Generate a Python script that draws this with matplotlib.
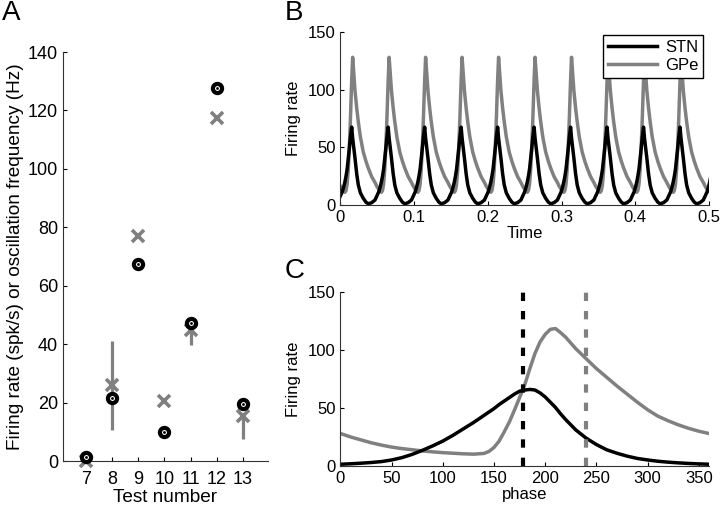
'''Three-panel figure: test summary (A), STN/GPe firing over time (B)
and firing rate against oscillation phase (C)'''

import numpy as np
import matplotlib
matplotlib.use('Agg')
import matplotlib.pyplot as plt

plt.rcParams['font.family'] = ['Liberation Sans', 'DejaVu Sans']

GRAY = '#808080'

# Panel A: per test, firing rate (circles) and oscillation frequency (crosses)
tests = [7, 8, 9, 10, 11, 12, 13]
rate_values = [1.5, 21.5, 67.3, 9.8, 47.3, 127.7, 19.5]
freq_values = [0, 26, 77, 20.5, 45, 117.5, 15.5]
range_tests = [8, 11, 13]
range_low = [10.5, 39.7, 7.5]
range_high = [41, 45, 15.5]

# Panel B: one oscillation cycle, time relative to the GPe peak (s)
cycle_time = [-0.0165, -0.0140, -0.0120, -0.0105, -0.0090, -0.0075, -0.0060,
              -0.0045, -0.0030, -0.0013, 0.0, 0.0015, 0.0032, 0.0055, 0.0077,
              0.0105, 0.0144, 0.0180, 0.0212, 0.0258, 0.0303, 0.0330]
cycle_stn = [8, 11.5, 16, 20, 25, 31, 40, 49, 59, 67.5, 58, 50, 40.5, 27, 17.3,
             10.5, 5.8, 2.5, 1.0, 2, 4.3, 8]
cycle_gpe = [16, 13.5, 12, 11, 12.5, 18, 30, 50, 75, 108, 128, 114, 99, 84, 72,
             59, 46, 38, 32, 24.6, 19.5, 16]
first_peak = 0.0165
period = 0.0495
n_cycles = 11

# Panel C: phase-averaged firing rate
phase = [0, 10, 20, 30, 40, 50, 60, 70, 80, 90, 100, 110, 120, 130, 140,
         145, 150, 155, 160, 165, 170, 175, 180, 185, 190, 195, 200, 205, 210,
         215, 220, 230, 240, 250, 260, 270, 280, 290, 300, 310, 320, 330, 340,
         350, 360]
stn_phase = [1.5, 1.9, 2.4, 3.0, 3.8, 5.2, 7.2, 10, 13.5, 17.3, 21.5, 26.5, 32,
             37.5, 43.5, 46.5, 49.5, 53, 56, 59, 62, 64.5, 65.5, 66, 65.5, 63,
             59.5, 55, 50.5, 45, 40, 31, 24, 18.5, 14, 11, 8.5, 6.5, 5.2, 4.1,
             3.3, 2.7, 2.2, 1.8, 1.5]
gpe_phase = [28, 25, 22.5, 20, 18, 16.3, 15, 14, 13, 12.2, 11.5, 11, 10.5, 10.2,
             10.8, 12.5, 16, 21.5, 29.5, 38, 48.3, 59, 70, 84, 97, 107, 113.5,
             117.8, 118.5, 115, 111, 101, 92.5, 84, 76.5, 69, 62, 55, 48.5, 43,
             39, 35.5, 32.5, 30, 28]
mean_phase_stn = 178
mean_phase_gpe = 240


def style_axes(ax, size):
    for side in ('top', 'right'):
        ax.spines[side].set_visible(False)
    for side in ('left', 'bottom'):
        ax.spines[side].set_color('#333333')
    ax.tick_params(direction='in', length=3, labelsize=size, colors='black')


fig = plt.figure(figsize=(7.2, 5.08), dpi=100)

# ---- A ----
ax_a = fig.add_axes([0.0875, 0.0925, 0.2847, 0.805])
ax_a.vlines(range_tests, range_low, range_high, color=GRAY, lw=2.3, zorder=1)
ax_a.plot(tests, freq_values, 'x', color=GRAY, ms=8.5, mew=2.6,
          zorder=2, clip_on=False)
ax_a.plot(tests, rate_values, 'o', mfc='white', mec='black', ms=6.6, mew=3,
          zorder=3, clip_on=False)
ax_a.plot(tests, rate_values, '.', color='black', ms=2, zorder=4, clip_on=False)
ax_a.set_xlim(6.12, 13.96)
ax_a.set_ylim(0, 140)
ax_a.set_xticks(tests)
ax_a.set_yticks(range(0, 141, 20))
style_axes(ax_a, 13)
ax_a.tick_params(axis='x', pad=7)
ax_a.set_xlabel('Test number', fontsize=13.7, labelpad=1)
ax_a.set_ylabel('Firing rate (spk/s) or oscillation frequency (Hz)',
                fontsize=13.7, labelpad=3)

# ---- B ----
ax_b = fig.add_axes([0.4729, 0.5965, 0.5118, 0.3406])
time_b = np.concatenate([np.array(cycle_time) + first_peak + k * period
                         for k in range(-1, n_cycles)])
stn_b = np.tile(cycle_stn, n_cycles + 1)
gpe_b = np.tile(cycle_gpe, n_cycles + 1)
ax_b.plot(time_b, gpe_b, color=GRAY, lw=2.5, label='GPe')
ax_b.plot(time_b, stn_b, color='black', lw=2.5, label='STN')
ax_b.set_xlim(0, 0.5)
ax_b.set_ylim(0, 150)
ax_b.set_xticks([0, 0.1, 0.2, 0.3, 0.4, 0.5])
ax_b.set_xticklabels(['0', '0.1', '0.2', '0.3', '0.4', '0.5'])
ax_b.set_yticks([0, 50, 100, 150])
style_axes(ax_b, 12)
ax_b.set_xlabel('Time', fontsize=12, labelpad=1)
ax_b.set_ylabel('Firing rate', fontsize=12, labelpad=5)
handles, labels = ax_b.get_legend_handles_labels()
leg = ax_b.legend(handles[::-1], labels[::-1], loc='upper right',
                  bbox_to_anchor=(0.985, 0.985), fontsize=12, fancybox=False,
                  framealpha=1, edgecolor='black', handlelength=2.9,
                  handletextpad=0.5, borderpad=0.3, labelspacing=0.2,
                  borderaxespad=0)
leg.get_frame().set_linewidth(1.0)

# ---- C ----
ax_c = fig.add_axes([0.4729, 0.0827, 0.5118, 0.3425])
ax_c.plot(phase, gpe_phase, color=GRAY, lw=2.5)
ax_c.plot(phase, stn_phase, color='black', lw=2.5)
ax_c.axvline(mean_phase_stn, color='black', lw=3, dashes=(2, 2.4))
ax_c.axvline(mean_phase_gpe, color=GRAY, lw=3, dashes=(2, 2.4))
ax_c.set_xlim(0, 360)
ax_c.set_ylim(0, 150)
ax_c.set_xticks(range(0, 351, 50))
ax_c.set_yticks([0, 50, 100, 150])
style_axes(ax_c, 12)
ax_c.set_xlabel('phase', fontsize=12, labelpad=1)
ax_c.set_ylabel('Firing rate', fontsize=12, labelpad=5)

# panel letters
fig.text(0.002, 1.0, 'A', fontsize=20, va='top', ha='left')
fig.text(0.395, 1.0, 'B', fontsize=20, va='top', ha='left')
fig.text(0.395, 0.492, 'C', fontsize=20, va='top', ha='left')

fig.savefig('out.png', dpi=100)
